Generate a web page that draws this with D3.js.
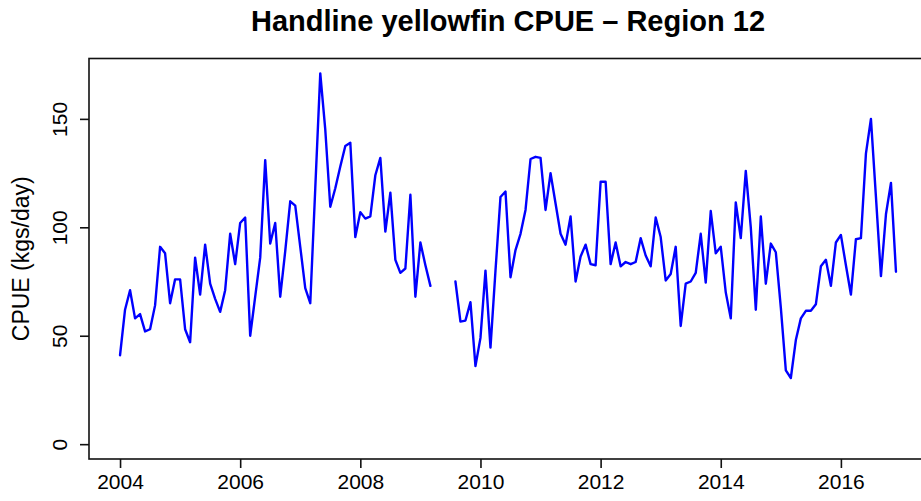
<!DOCTYPE html>
<html>
<head>
<meta charset="utf-8">
<script src="https://cdn.jsdelivr.net/npm/d3@7"></script>
<style>
  html, body { margin: 0; padding: 0; background: #fff; }
  svg { display: block; }
  text { font-family: "Liberation Sans", Arial, Helvetica, sans-serif; fill: #000; }
</style>
</head>
<body>
<svg id="chart" width="921" height="501"></svg>
<script>
// Monthly handline yellowfin CPUE (kgs/day), Jan 2004 – Dec 2016; null = no fishing data
const firstYear = 2004;
const cpue = [
  41, 62, 71, 58, 60, 52, 53, 64, 91, 88, 65, 76,            // 2004
  76, 53, 47, 86, 69, 92, 74, 67, 61, 71, 97, 83,            // 2005
  102, 104.5, 50, 68, 86, 131, 92.5, 102, 68, 89, 112, 110,  // 2006
  91, 72, 65, 118, 171, 145, 109.5, 118, 128, 137.5, 139, 95.5, // 2007
  107, 104, 105, 124, 132, 98, 116, 85, 79, 81, 115, 68,     // 2008
  93, 82.5, 73, null, null, null, null, 75, 56.5, 57, 65.5, 36, // 2009
  49, 80, 44.5, 80, 114, 116.5, 77, 89.5, 97, 108, 131.5, 132.5, // 2010
  132, 108, 125, 111, 97, 92, 105, 75, 86.5, 92, 83, 82.5,   // 2011
  121, 121, 83, 93, 82, 84, 83, 84, 95, 87, 82, 104.5,       // 2012
  95.5, 75.5, 78.5, 91, 54.5, 74, 75, 79, 97, 74.5, 107.5, 88, // 2013
  91, 70, 58, 111.5, 95, 126, 100, 62, 105, 74, 92.5, 88.5,  // 2014
  63, 34, 30.5, 48, 58, 61.5, 61.5, 64.5, 82, 85, 73, 93,    // 2015
  96.5, 82.5, 69, 94.5, 95, 134, 150, 114, 77.5, 106, 120.5, 79.5 // 2016
];
const xTickYears = [2004, 2006, 2008, 2010, 2012, 2014, 2016];
const yTickValues = [0, 50, 100, 150];
const titleText = "Handline yellowfin CPUE \u2013 Region 12";
const yLabelText = "CPUE (kgs/day)";

const points = cpue.map((v, i) => ({ t: firstYear + i / 12, v }));

const svg = d3.select("#chart");
const plot = { left: 89, right: 927, top: 58.5, bottom: 459 };

// Axis ranges padded by 4% on each side
function padded(lo, hi) { const p = (hi - lo) * 0.04; return [lo - p, hi + p]; }
const tExtent = d3.extent(points, d => d.t);
const x = d3.scaleLinear().domain(padded(tExtent[0], tExtent[1])).range([plot.left, plot.right]);
const y = d3.scaleLinear().domain(padded(0, d3.max(cpue))).range([plot.bottom, plot.top]);

// Series line, broken where data are missing
const line = d3.line()
  .defined(d => d.v !== null)
  .x(d => x(d.t))
  .y(d => y(d.v));

svg.append("path")
  .datum(points)
  .attr("d", line)
  .attr("fill", "none")
  .attr("stroke", "#0000ff")
  .attr("stroke-width", 2.4)
  .attr("stroke-linejoin", "round")
  .attr("stroke-linecap", "round");

// Plot frame
svg.append("rect")
  .attr("x", plot.left).attr("y", plot.top)
  .attr("width", plot.right - plot.left).attr("height", plot.bottom - plot.top)
  .attr("fill", "none").attr("stroke", "#111").attr("stroke-width", 1.6);

// Bottom axis
const xAxis = d3.axisBottom(x).tickValues(xTickYears).tickFormat(d3.format("d"))
  .tickSizeInner(9).tickSizeOuter(0).tickPadding(6);
const gx = svg.append("g").attr("transform", `translate(0,${plot.bottom})`).call(xAxis);
gx.select(".domain").remove();
gx.selectAll(".tick line").attr("stroke", "#111").attr("stroke-width", 1.6);
gx.selectAll(".tick text").attr("font-size", 21).attr("fill", "#000")
  .attr("font-family", "Liberation Sans, Arial, sans-serif");

// Left axis with labels rotated parallel to the axis
const yAxis = d3.axisLeft(y).tickValues(yTickValues).tickFormat(d3.format("d"))
  .tickSizeInner(9).tickSizeOuter(0);
const gy = svg.append("g").attr("transform", `translate(${plot.left},0)`).call(yAxis);
gy.select(".domain").remove();
gy.selectAll(".tick line").attr("stroke", "#111").attr("stroke-width", 1.6);
gy.selectAll(".tick text")
  .attr("font-size", 21).attr("fill", "#000")
  .attr("font-family", "Liberation Sans, Arial, sans-serif")
  .attr("x", null).attr("dy", null)
  .attr("text-anchor", "middle")
  .attr("transform", "translate(-22,0) rotate(-90)");

// Y axis title
svg.append("text")
  .attr("transform", `translate(29,${(plot.top + plot.bottom) / 2}) rotate(-90)`)
  .attr("text-anchor", "middle")
  .attr("font-size", 23)
  .text(yLabelText);

// Chart title
svg.append("text")
  .attr("x", (plot.left + plot.right) / 2)
  .attr("y", 31)
  .attr("text-anchor", "middle")
  .attr("font-size", 29)
  .attr("font-weight", "bold")
  .text(titleText);
</script>
</body>
</html>
